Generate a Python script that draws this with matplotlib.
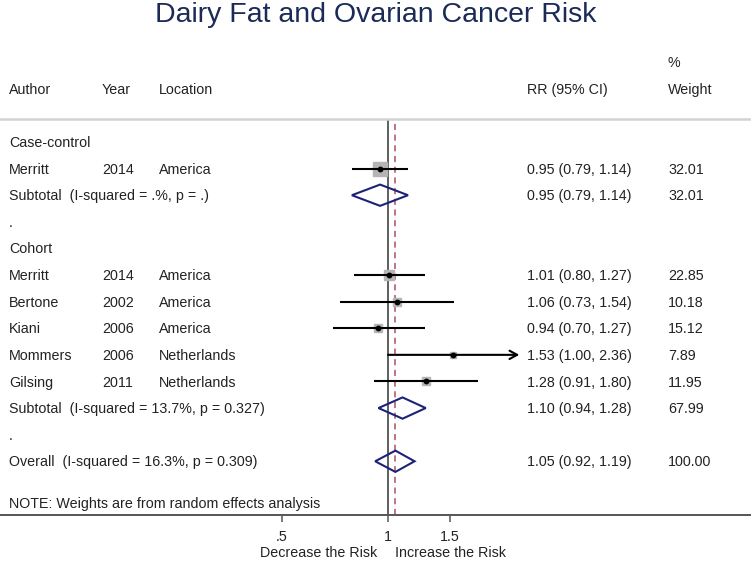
import numpy as np
import matplotlib
matplotlib.use("Agg")
import matplotlib.pyplot as plt

plt.rcParams['font.family'] = ['Liberation Sans', 'DejaVu Sans']

# ---------------- data ----------------
title = "Dairy Fat and Ovarian Cancer Risk"

cc_authors = ["Merritt"]
cc_years = ["2014"]
cc_locations = ["America"]
cc_rr = [0.95]
cc_lo = [0.79]
cc_hi = [1.14]
cc_weight = ["32.01"]
cc_wnum = [32.01]

co_authors = ["Merritt", "Bertone", "Kiani", "Mommers", "Gilsing"]
co_years = ["2014", "2002", "2006", "2006", "2011"]
co_locations = ["America", "America", "America", "Netherlands", "Netherlands"]
co_rr = [1.01, 1.06, 0.94, 1.53, 1.28]
co_lo = [0.80, 0.73, 0.70, 1.00, 0.91]
co_hi = [1.27, 1.54, 1.27, 2.36, 1.80]
co_weight = ["22.85", "10.18", "15.12", "7.89", "11.95"]
co_wnum = [22.85, 10.18, 15.12, 7.89, 11.95]

sub_labels = ["Subtotal  (I-squared = .%, p = .)",
              "Subtotal  (I-squared = 13.7%, p = 0.327)"]
sub_rr = [0.95, 1.10]
sub_lo = [0.79, 0.94]
sub_hi = [1.14, 1.28]
sub_weight = ["32.01", "67.99"]

overall_label = "Overall  (I-squared = 16.3%, p = 0.309)"
overall_rr = 1.05
overall_lo = 0.92
overall_hi = 1.19
overall_weight = "100.00"

group_names = ["Case-control", "Cohort"]
tick_vals = [0.5, 1, 1.5]
tick_labels = [".5", "1", "1.5"]
note = "NOTE: Weights are from random effects analysis"
xlabel_left = "Decrease the Risk"
xlabel_right = "Increase the Risk"

# ---------------- layout ----------------
W, H = 751, 561
fig = plt.figure(figsize=(W / 100, H / 100), dpi=100)
top_px, bot_px = 119, 515
ax = fig.add_axes([0, (H - bot_px) / H, 1, (bot_px - top_px) / H])
ax.set_xscale('log')
XMIN, XMAX = 0.0792, 10.73
ax.set_xlim(XMIN, XMAX)
YTOP, YBOT = -0.865, 14.02
ax.set_ylim(YBOT, YTOP)
PLOT_MAX = 2.3

TXT = '#222222'
FS = 10.3
BASE = 0.19
col_author, col_year, col_loc, col_rr, col_w = 9 / W, 102 / W, 159 / W, 527 / W, 668 / W
tr = ax.get_yaxis_transform()


def txt(x, y, s, **kw):
    ax.text(x, y + BASE, s, transform=tr, fontsize=FS, color=TXT, va='baseline',
            ha='left', clip_on=False, **kw)


def study(row, a, yv, loc, rr, lo, hi, w, wn):
    txt(col_author, row, a)
    txt(col_year, row, yv)
    txt(col_loc, row, loc)
    txt(col_rr, row, f"{rr:.2f} ({lo:.2f}, {hi:.2f})")
    txt(col_w, row, w)
    side = 2.3 * np.sqrt(wn) * 0.72
    ax.plot([rr], [row], marker='s', ms=side, color='#b5b5b5', mec='#b5b5b5', zorder=2)
    if hi > PLOT_MAX:
        ax.annotate('', xy=(hi, row), xytext=(lo, row),
                    arrowprops=dict(arrowstyle='->,head_length=0.55,head_width=0.3',
                                    lw=1.5, color='black', shrinkA=0, shrinkB=0),
                    zorder=3)
    else:
        ax.plot([lo, hi], [row, row], color='black', lw=1.5, zorder=3,
                solid_capstyle='butt')
    ax.plot([rr], [row], marker='o', ms=3.2, color='black', zorder=4)


def diamond(row, label, rr, lo, hi, w):
    txt(col_author, row, label)
    txt(col_rr, row, f"{rr:.2f} ({lo:.2f}, {hi:.2f})")
    txt(col_w, row, w)
    h = 0.4
    ax.fill([lo, rr, hi, rr, lo], [row, row - h, row, row + h, row],
            facecolor='none', edgecolor='#1c2377', lw=1.5, zorder=4)


# header
txt(col_w, -3, "%")
txt(col_author, -2, "Author")
txt(col_year, -2, "Year")
txt(col_loc, -2, "Location")
txt(col_rr, -2, "RR (95% CI)")
txt(col_w, -2, "Weight")

row = 0
txt(col_author, row, group_names[0]); row += 1
for i in range(len(cc_authors)):
    study(row, cc_authors[i], cc_years[i], cc_locations[i], cc_rr[i], cc_lo[i],
          cc_hi[i], cc_weight[i], cc_wnum[i])
    row += 1
diamond(row, sub_labels[0], sub_rr[0], sub_lo[0], sub_hi[0], sub_weight[0]); row += 1
txt(col_author, row, "."); row += 1
txt(col_author, row, group_names[1]); row += 1
for i in range(len(co_authors)):
    study(row, co_authors[i], co_years[i], co_locations[i], co_rr[i], co_lo[i],
          co_hi[i], co_weight[i], co_wnum[i])
    row += 1
diamond(row, sub_labels[1], sub_rr[1], sub_lo[1], sub_hi[1], sub_weight[1]); row += 1
txt(col_author, row, "."); row += 1
diamond(row, overall_label, overall_rr, overall_lo, overall_hi, overall_weight)
txt(col_author, 13.57, note)

# reference lines
ax.axvline(1, color='#333333', lw=1.1, zorder=1)
ax.axvline(overall_rr, color='#b0505f', lw=1.1, ls=(0, (4, 3)), zorder=1)

# spines / axis
for s in ['left', 'right']:
    ax.spines[s].set_visible(False)
ax.spines['top'].set_color('#d2d2d2')
ax.spines['top'].set_linewidth(1.8)
ax.spines['bottom'].set_color('#555555')
ax.spines['bottom'].set_linewidth(1.4)
ax.set_yticks([])
ax.set_xticks(tick_vals)
ax.set_xticklabels(tick_labels)
ax.xaxis.set_minor_locator(matplotlib.ticker.NullLocator())
ax.tick_params(axis='x', direction='out', length=5, width=1.1, color='#555555',
               pad=6, labelsize=FS, labelcolor=TXT)

# x labels
xt = ax.get_xaxis_transform()
ax.annotate(xlabel_left, xy=(1, 0), xycoords=xt, xytext=(-7.5, -30),
            textcoords='offset points', ha='right', va='baseline', fontsize=FS, color=TXT)
ax.annotate(xlabel_right, xy=(1, 0), xycoords=xt, xytext=(5, -30),
            textcoords='offset points', ha='left', va='baseline', fontsize=FS, color=TXT)

fig.text(0.5, 1 - 21.5 / H, title, ha='center', va='baseline', fontsize=20.5,
         color='#1b2a57')

fig.savefig("out.png", dpi=100, facecolor='white')
